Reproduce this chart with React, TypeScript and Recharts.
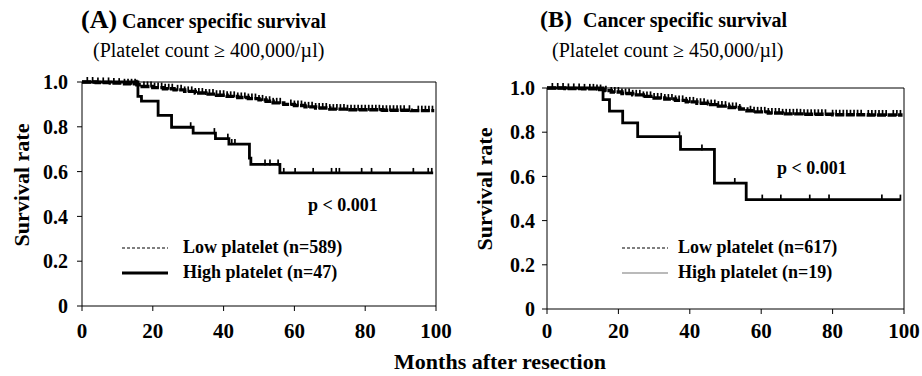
import React from "react";
import {
  ComposedChart,
  Line,
  Scatter,
  XAxis,
  YAxis,
  ReferenceLine,
} from "recharts";

// ---------- data ----------
const monthTicks = [0, 20, 40, 60, 80, 100];
const survivalTicks = [0, 0.2, 0.4, 0.6, 0.8, 1.0];

// Panel A (platelet >= 400,000/µl) : [month, survival]
const aLowCurve = [
  [0, 1], [4, 0.998], [8, 0.995], [12, 0.992], [15.5, 0.988], [17, 0.98],
  [20, 0.975], [23, 0.97], [26, 0.965], [29, 0.958], [32, 0.951], [35, 0.946],
  [38, 0.941], [41, 0.936], [44, 0.931], [47, 0.926], [50, 0.92], [52, 0.914],
  [54, 0.907], [57, 0.9], [60, 0.895], [63, 0.889], [66, 0.884], [70, 0.879],
  [75, 0.876], [85, 0.874], [93, 0.872], [99.5, 0.872],
];
const aHighCurve = [
  [0, 1], [15.8, 0.936], [16.8, 0.915], [21.5, 0.851], [25.3, 0.798],
  [31.4, 0.772], [37.7, 0.747], [41.5, 0.723], [47.3, 0.66], [47.7, 0.632],
  [55.9, 0.594], [99.2, 0.594],
];
const aLowCensor = [
  1.5, 3, 4.5, 6, 7.5, 9, 10.5, 12, 13, 14, 15, 15.5, 17.5, 18.5, 19.5, 20.5,
  21.5, 22.5, 23.5, 24.5, 25.5, 27, 28, 29, 30, 31, 32, 33, 34, 35, 36, 37, 38,
  39, 40, 41, 42, 43, 44, 45, 46, 47, 48, 49, 50, 51, 52, 53, 54, 55, 56, 59,
  60, 61, 62, 63, 64, 65, 66, 67, 68, 69, 70, 71, 72, 73, 74, 75, 76, 77, 78,
  79, 80, 81, 82, 83, 84, 85, 86, 87, 88, 89, 90, 91, 92.5, 95, 96, 97, 98, 99,
];
const aHighCensor = [
  30.7, 37.4, 41.2, 42.3, 43.2, 51.7, 53.1, 55.4, 57.0, 60.2, 65.3, 70.5, 71.8,
  72.7, 79.0, 81.8, 87.0, 93.6, 97.8, 98.8,
];

// Panel B (platelet >= 450,000/µl)
const bLowCurve = [
  [0, 1], [5, 0.998], [10, 0.996], [14, 0.993], [16, 0.988], [18, 0.982],
  [21, 0.975], [24, 0.969], [27, 0.962], [30, 0.955], [33, 0.95], [36, 0.944],
  [39, 0.937], [42, 0.931], [45, 0.925], [48, 0.918], [51, 0.912], [54, 0.905],
  [56, 0.897], [58, 0.892], [62, 0.887], [66, 0.883], [72, 0.881], [80, 0.879],
  [90, 0.878], [99.6, 0.878],
];
const bHighCurve = [
  [0, 1], [15.7, 0.947], [17.5, 0.895], [21.2, 0.842], [25.4, 0.78],
  [37.4, 0.722], [46.9, 0.57], [55.8, 0.495], [99, 0.495],
];
const bLowCensor = [
  1.5, 3, 4.5, 6, 7.5, 9, 10.5, 12, 13, 14, 15, 16.5, 18, 19, 20, 21, 22, 23,
  24, 25, 26, 27, 28, 29, 30, 31, 32, 33, 34, 35, 36, 37, 38, 39, 40, 41, 42,
  43, 44, 45, 46, 47, 48, 49, 50, 51, 52, 53, 54, 57, 58, 59, 60, 61, 62, 63,
  64, 65, 66, 67, 68, 69, 70, 71, 72, 73, 74, 75, 76, 77, 78, 80, 81, 82, 83,
  84, 85, 86, 87, 88, 90, 91, 92, 93, 94, 95, 97, 98, 99,
];
const bHighCensor = [37.1, 43.4, 52.6, 60.3, 65.5, 73.6, 79.0, 93.8, 99.0];

// ---------- helpers ----------
const FONT = "'Liberation Serif', 'Times New Roman', serif";

const toRows = (curve: number[][]) => curve.map(([t, s]) => ({ t, s }));
const survAt = (curve: number[][], t: number) => {
  let v = curve[0][1];
  for (const [ct, cs] of curve) if (ct <= t) v = cs;
  return v;
};
const censorRows = (curve: number[][], times: number[]) =>
  times.map((t) => ({ t, s: survAt(curve, t) }));

const CensorTick = (props: any) => {
  const { cx, cy } = props;
  if (cx == null || cy == null) return null;
  return (
    <line x1={cx} x2={cx} y1={cy + 1} y2={cy - 5} stroke="#000" strokeWidth={1.7} />
  );
};

const tickStyle = (size: number) => ({
  fontFamily: FONT,
  fontWeight: "bold" as const,
  fontSize: size,
  fill: "#000",
});

type PanelProps = {
  width: number;
  margin: { top: number; right: number; bottom: number; left: number };
  low: number[][];
  high: number[][];
  lowCensor: number[];
  highCensor: number[];
  yTickMargin: number;
  xTickMargin: number;
};

const Panel = ({ width, margin, low, high, lowCensor, highCensor, yTickMargin, xTickMargin }: PanelProps) => (
  <ComposedChart width={width} height={376} margin={margin}>
    <XAxis
      type="number"
      dataKey="t"
      domain={[0, 100]}
      ticks={monthTicks}
      allowDataOverflow
      height={30}
      tickSize={5}
      tickMargin={xTickMargin}
      axisLine={{ stroke: "#000", strokeWidth: 1 }}
      tickLine={{ stroke: "#000" }}
      tick={tickStyle(21)}
    />
    <YAxis
      type="number"
      dataKey="s"
      domain={[0, 1]}
      ticks={survivalTicks}
      width={30}
      tickSize={5}
      tickMargin={yTickMargin}
      axisLine={{ stroke: "#000", strokeWidth: 1 }}
      tickLine={{ stroke: "#000" }}
      tick={tickStyle(20)}
      tickFormatter={(v: number) => (v === 0 ? "0" : v.toFixed(1))}
    />
    <ReferenceLine y={1} stroke="#000" strokeWidth={1} />
    <ReferenceLine x={100} stroke="#000" strokeWidth={1} />
    <Line
      data={toRows(low)}
      dataKey="s"
      type="stepAfter"
      stroke="#000"
      strokeWidth={3.4}
      strokeDasharray="9 1.5"
      dot={false}
      isAnimationActive={false}
    />
    <Line
      data={toRows(high)}
      dataKey="s"
      type="stepAfter"
      stroke="#000"
      strokeWidth={2.8}
      dot={false}
      isAnimationActive={false}
    />
    <Scatter
      data={censorRows(low, lowCensor)}
      dataKey="s"
      shape={CensorTick}
      isAnimationActive={false}
    />
    <Scatter
      data={censorRows(high, highCensor)}
      dataKey="s"
      shape={CensorTick}
      isAnimationActive={false}
    />
  </ComposedChart>
);

const boldText = { fontFamily: FONT, fontWeight: "bold" as const, fill: "#000" };
const plainText = { fontFamily: FONT, fill: "#000" };

export default function App() {
  return (
    <div
      style={{
        position: "absolute",
        left: 0,
        top: 0,
        width: 922,
        height: 376,
        background: "#fff",
        overflow: "hidden",
      }}
    >
      <div style={{ position: "absolute", left: 0, top: 0 }}>
        <Panel
          width={460}
          margin={{ top: 82, right: 24, bottom: 40, left: 52 }}
          low={aLowCurve}
          high={aHighCurve}
          lowCensor={aLowCensor}
          highCensor={aHighCensor}
          yTickMargin={9}
          xTickMargin={12}
        />
      </div>
      <div style={{ position: "absolute", left: 460, top: 0 }}>
        <Panel
          width={462}
          margin={{ top: 88, right: 18, bottom: 37, left: 57 }}
          low={bLowCurve}
          high={bHighCurve}
          lowCensor={bLowCensor}
          highCensor={bHighCensor}
          yTickMargin={7}
          xTickMargin={9}
        />
      </div>
      <svg
        width={922}
        height={376}
        style={{ position: "absolute", left: 0, top: 0, pointerEvents: "none" }}
      >
        {/* Panel A titles */}
        <text x={81} y={28} fontSize={26} {...boldText}>(A)</text>
        <text x={122} y={28} fontSize={20} {...boldText}>Cancer specific survival</text>
        <text x={93} y={57} fontSize={20} {...plainText}>(Platelet count ≥ 400,000/µl)</text>
        {/* Panel B titles */}
        <text x={540} y={27} fontSize={24} {...boldText}>(B)</text>
        <text x={583} y={27} fontSize={20} {...boldText}>Cancer specific survival</text>
        <text x={552} y={57} fontSize={20} {...plainText}>(Platelet count ≥ 450,000/µl)</text>

        {/* y axis titles */}
        <text
          x={21}
          y={185}
          fontSize={22}
          textAnchor="middle"
          dominantBaseline="central"
          transform="rotate(-90 21 185)"
          {...boldText}
        >
          Survival rate
        </text>
        <text
          x={484}
          y={189}
          fontSize={22}
          textAnchor="middle"
          dominantBaseline="central"
          transform="rotate(-90 484 189)"
          {...boldText}
        >
          Survival rate
        </text>

        {/* p values */}
        <text x={308} y={211} fontSize={18} {...boldText}>p &lt; 0.001</text>
        <text x={777} y={174} fontSize={18} {...boldText}>p &lt; 0.001</text>

        {/* legend A */}
        <line x1={122} x2={168} y1={248} y2={248} stroke="#000" strokeWidth={1.2} strokeDasharray="3 2" />
        <text x={183} y={253} fontSize={18} {...boldText}>Low platelet (n=589)</text>
        <line x1={122} x2={168} y1={273} y2={273} stroke="#000" strokeWidth={3} />
        <text x={183} y={278} fontSize={18} {...boldText}>High platelet (n=47)</text>

        {/* legend B */}
        <line x1={622} x2={668} y1={248} y2={248} stroke="#000" strokeWidth={1.2} strokeDasharray="3 2" />
        <text x={678} y={253} fontSize={18} {...boldText}>Low platelet (n=617)</text>
        <line x1={622} x2={668} y1={273} y2={273} stroke="#777" strokeWidth={1.2} />
        <text x={678} y={278} fontSize={18} {...boldText}>High platelet (n=19)</text>

        {/* shared x axis title */}
        <text x={500} y={369} fontSize={22} textAnchor="middle" {...boldText}>
          Months after resection
        </text>
      </svg>
    </div>
  );
}
